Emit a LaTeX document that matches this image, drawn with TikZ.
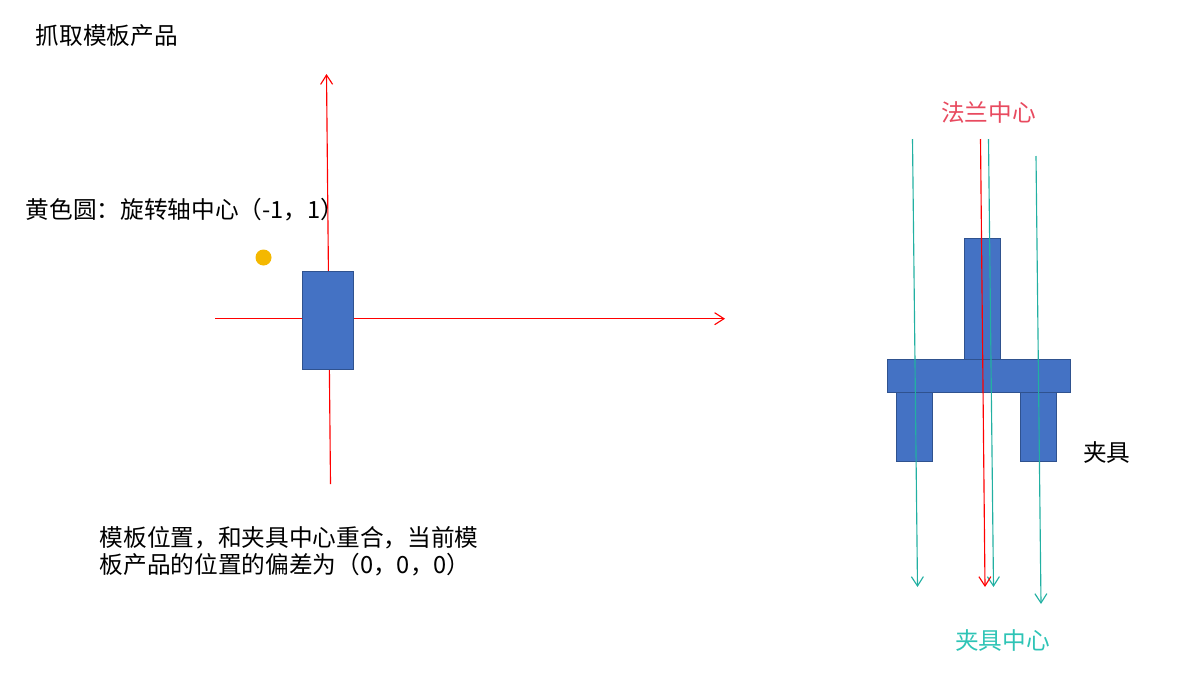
\documentclass[tikz,border=0pt]{standalone}
\usepackage{fontspec}
\setmainfont{Noto Sans CJK SC}
\usetikzlibrary{arrows.meta}
\definecolor{boxfill}{HTML}{4472C4}
\definecolor{boxline}{HTML}{2F528F}
\definecolor{axisred}{HTML}{FF0000}
\definecolor{tealline}{HTML}{22B0A2}
\definecolor{tealtext}{HTML}{2EC4B6}
\definecolor{flangetext}{HTML}{E84A5F}
\definecolor{dotyellow}{HTML}{F4B800}
\tikzset{
  x=0.75pt,y=-0.75pt,
  blockbox/.style={draw=boxline,fill=boxfill,line width=0.7pt,minimum width=0pt,minimum height=0pt,inner sep=0pt,outer sep=0pt,anchor=north west},
  label/.style={font=\fontsize{17.75pt}{22pt}\selectfont,inner sep=0pt,anchor=west,align=left},
  redarrow/.style={draw=axisred,line width=0.85pt,-{Straight Barb[length=7pt,width=9pt,line width=0.85pt]}},
  tealarrow/.style={draw=tealline,line width=0.85pt,-{Straight Barb[length=7pt,width=9pt,line width=0.85pt]}}
}
\newcommand{\blk}[5]{\node[blockbox,minimum width=#4*0.75pt,minimum height=#5*0.75pt] (#1) at (#2,#3) {};}
\begin{document}
\begin{tikzpicture}
\useasboundingbox (0,0) rectangle (1184,682);
% left axes
\coordinate (yb) at (330.5,484);
\coordinate (yt) at (326.5,74);
\coordinate (xl) at (215,318.7);
\coordinate (xr) at (725,318.7);
\draw[redarrow] (yb) -- (yt);
\draw[redarrow] (xl) -- (xr);
\blk{part}{302.5}{271.5}{51}{98}
\node[circle,fill=dotyellow,minimum size=12pt,inner sep=0pt] (dot) at (263.5,257.5) {};
% fixture
\blk{stem}{964.5}{238.5}{36}{121}
\blk{flange}{887.5}{359.5}{183}{33}
\blk{legl}{896.5}{392.5}{36}{69}
\blk{legr}{1020.5}{392.5}{36}{69}
% centre lines
\coordinate (t1s) at (912.5,139);
\coordinate (t1e) at (917.5,587);
\coordinate (t2s) at (988.5,139);
\coordinate (t2e) at (993.5,587);
\coordinate (t3s) at (1036,156);
\coordinate (t3e) at (1041,604);
\coordinate (rs) at (980.5,139);
\coordinate (re) at (985,587);
\draw[tealarrow] (t1s) -- (t1e);
\draw[tealarrow] (t2s) -- (t2e);
\draw[tealarrow] (t3s) -- (t3e);
\draw[redarrow] (rs) -- (re);
% labels
\node[label] (title) at (35.5,36) {抓取模板产品};
\node[label] (yellow) at (25.5,210) {黄色圆：旋转轴中心（-1，1）};
\node[label,text=flangetext] (flangec) at (941,112.5) {法兰中心};
\node[label] (clamp) at (1083,453) {夹具};
\node[label,text=tealtext] (clampc) at (955,641) {夹具中心};
\node[label,text width=400*0.75pt] (note) at (99.5,551) {模板位置，和夹具中心重合，当前模\\[-1.5pt]板产品的位置的偏差为（0，0，0）};
\end{tikzpicture}
\end{document}
